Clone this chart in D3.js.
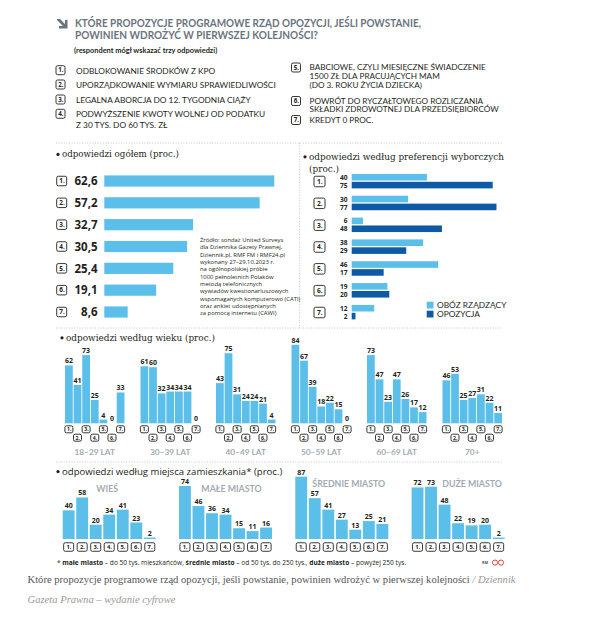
<!DOCTYPE html>
<html>
<head>
<meta charset="utf-8">
<script src="https://cdn.jsdelivr.net/npm/d3@7"></script>
<style>
body { margin: 0; background: #fff; }
</style>
</head>
<body>
<div id="chart"></div>
<script>
const itemNumbers = ['1.', '2.', '3.', '4.', '5.', '6.', '7.'];
const proposalsLeft = [
    ['ODBLOKOWANIE ŚRODKÓW Z KPO'],
    ['UPORZĄDKOWANIE WYMIARU SPRAWIEDLIWOŚCI'],
    ['LEGALNA ABORCJA DO 12. TYGODNIA CIĄŻY'],
    ['PODWYŻSZENIE KWOTY WOLNEJ OD PODATKU', 'Z 30 TYS. DO 60 TYS. ZŁ']
];
const proposalsRight = [
    ['BABCIOWE, CZYLI MIESIĘCZNE ŚWIADCZENIE', '1500 ZŁ DLA PRACUJĄCYCH MAM', '(DO 3. ROKU ŻYCIA DZIECKA)'],
    ['POWRÓT DO RYCZAŁTOWEGO ROZLICZANIA', 'SKŁADKI ZDROWOTNEJ DLA PRZEDSIĘBIORCÓW'],
    ['KREDYT 0 PROC.']
];

const totalValues = [62.6, 57.2, 32.7, 30.5, 25.4, 19.1, 8.6];
const govValues = [40, 30, 6, 38, 46, 19, 12];
const oppValues = [75, 77, 48, 29, 17, 20, 2];
const prefSeries = ['OBÓZ RZĄDZĄCY', 'OPOZYCJA'];

const ageGroups = ['18–29 LAT', '30–39 LAT', '40–49 LAT', '50–59 LAT', '60–69 LAT', '70+'];
const age18to29 = [62, 41, 73, 25, 4, 0, 33];
const age30to39 = [61, 60, 32, 34, 34, 34, 0];
const age40to49 = [43, 75, 31, 24, 24, 21, 4];
const age50to59 = [84, 67, 39, 18, 22, 15, 0];
const age60to69 = [73, 47, 23, 47, 26, 17, 12];
const age70plus = [46, 53, 25, 27, 31, 22, 11];

const placeGroups = ['WIEŚ', 'MAŁE MIASTO', 'ŚREDNIE MIASTO', 'DUŻE MIASTO'];
const village = [40, 58, 20, 34, 41, 23, 2];
const smallTown = [74, 46, 36, 34, 15, 11, 16];
const midTown = [87, 57, 41, 27, 13, 25, 21];
const bigCity = [72, 73, 48, 22, 19, 20, 2];

const sourceLines = [
    'Źródło: sondaż United Surveys',
    'dla Dziennika Gazety Prawnej,',
    'Dziennik.pl, RMF FM i RMF24.pl',
    'wykonany 27–29.10.2023 r.',
    'na ogólnopolskiej próbie',
    '1000 pełnoletnich Polaków',
    'metodą telefonicznych',
    'wywiadów kwestionariuszowych',
    'wspomaganych komputerowo (CATI)',
    'oraz ankiet udostępnianych',
    'za pomocą internetu (CAWI)'
];

const LIGHT = '#5bbfea';
const DARK = '#0f5aa7';
const INK = '#231f20';
const GREY_TITLE = '#6b747e';
const GREY_LABEL = '#a3abb2';
const SERIF = '"DejaVu Serif", serif';
const CAPTION_SERIF = '"Liberation Serif", serif';
const SANS = '"Open Sans", sans-serif';
const CAPS = 'Lato, "Open Sans", sans-serif';

const svg = d3.select('#chart').append('svg')
    .attr('width', 604).attr('height', 629)
    .attr('font-family', CAPS);

const fmtComma = v => d3.format('.1f')(v).replace('.', ',');

// little rounded box with the proposal number
const drawBox = (g, cx, cy, w, h, label, size) => {
    g.append('rect')
        .attr('x', cx - w / 2).attr('y', cy - h / 2)
        .attr('width', w).attr('height', h)
        .attr('rx', 1.6)
        .attr('fill', '#fff').attr('stroke', INK).attr('stroke-width', 0.9);
    g.append('text')
        .attr('x', cx + 0.3).attr('y', cy + size * 0.36)
        .attr('text-anchor', 'middle')
        .attr('font-family', SANS).attr('font-weight', 700)
        .attr('font-size', size).attr('fill', INK)
        .text(label);
}

const dotted = (x1, y1, x2, y2) => svg.append('line')
    .attr('x1', x1).attr('y1', y1).attr('x2', x2).attr('y2', y2)
    .attr('stroke', '#b9bcbf').attr('stroke-width', 0.8).attr('stroke-dasharray', '1,1.6');

const sectionTitle = (x, y, text, font, size) => {
    svg.append('circle').attr('cx', x).attr('cy', y - size * 0.3).attr('r', 1.6).attr('fill', INK);
    return svg.append('text').attr('x', x + 4).attr('y', y)
        .attr('font-family', font).attr('font-size', size).attr('fill', INK).text(text);
}

// ---------- header ----------
const head = svg.append('g');
head.append('path')
    .attr('d', 'M57,19 L60,19 L65,24 L65,20 L67.5,20 L67.5,28.5 L59,28.5 L59,26 L63,26 L57,20 Z')
    .attr('fill', GREY_TITLE);
head.append('text').attr('x', 75).attr('y', 27)
    .attr('font-weight', 700).attr('font-size', 11).attr('fill', GREY_TITLE)
    .attr('textLength', 346).attr('lengthAdjust', 'spacingAndGlyphs')
    .text('KTÓRE PROPOZYCJE PROGRAMOWE RZĄD OPOZYCJI, JEŚLI POWSTANIE,');
head.append('text').attr('x', 75).attr('y', 38.5)
    .attr('font-weight', 700).attr('font-size', 11).attr('fill', GREY_TITLE)
    .attr('textLength', 243).attr('lengthAdjust', 'spacingAndGlyphs')
    .text('POWINIEN WDROŻYĆ W PIERWSZEJ KOLEJNOŚCI?');
head.append('text').attr('x', 74).attr('y', 53)
    .attr('font-weight', 700).attr('font-size', 7.4).attr('fill', INK)
    .text('(respondent mógł wskazać trzy odpowiedzi)');

const listYLeft = [70.7, 85, 100, 114.3];
proposalsLeft.forEach((lines, i) => {
    drawBox(head, 60.5, listYLeft[i] - 0.5, 9, 9, itemNumbers[i], 6.2);
    lines.forEach((line, j) => head.append('text')
        .attr('x', 76).attr('y', listYLeft[i] + 3 + j * 10.3)
        .attr('font-size', 8.3).attr('fill', INK).text(line));
});
const listYRight = [67.5, 101, 120];
proposalsRight.forEach((lines, i) => {
    drawBox(head, 296, listYRight[i], 9, 9, itemNumbers[i + 4], 6.2);
    lines.forEach((line, j) => head.append('text')
        .attr('x', 309.5).attr('y', listYRight[i] + 2.5 + j * 8.9)
        .attr('font-size', 8.2).attr('fill', INK).text(line));
});

// ---------- frames ----------
dotted(56, 143, 502, 143);
dotted(299.5, 143, 299.5, 328);
dotted(56, 328, 502, 328);
dotted(56, 462, 502, 462);

// ---------- overall ----------
sectionTitle(58, 157, 'odpowiedzi ogółem (proc.)', SERIF, 8.7);

const yTotal = d3.scalePoint().domain(itemNumbers).range([181, 312]);
const xTotal = d3.scaleLinear().domain([0, 62.6]).range([0, 170]);
const gTotal = svg.append('g');
gTotal.selectAll('rect.bar').data(totalValues).enter().append('rect')
    .attr('class', 'bar')
    .attr('x', 104.3)
    .attr('y', (d, i) => yTotal(itemNumbers[i]) - 5.6)
    .attr('width', d => xTotal(d))
    .attr('height', 11.2)
    .attr('fill', LIGHT);
gTotal.selectAll('text.val').data(totalValues).enter().append('text')
    .attr('class', 'val')
    .attr('x', 97.5).attr('y', (d, i) => yTotal(itemNumbers[i]) + 4.2)
    .attr('text-anchor', 'end')
    .attr('font-family', SANS).attr('font-weight', 700).attr('font-size', 11.5).attr('fill', INK)
    .text(d => fmtComma(d));
itemNumbers.forEach(n => drawBox(gTotal, 61.7, yTotal(n), 10, 9.5, n, 6.4));

sourceLines.forEach((line, i) => svg.append('text')
    .attr('x', 200).attr('y', 242 + i * 7.33)
    .attr('font-family', SANS).attr('font-size', 5.9).attr('fill', INK)
    .text(line));

// ---------- preferences ----------
sectionTitle(305, 159.5, 'odpowiedzi według preferencji wyborczych', SERIF, 8.9);
svg.append('text').attr('x', 309).attr('y', 171.5)
    .attr('font-family', SERIF).attr('font-size', 8.9).attr('fill', INK).text('(proc.)');

const yPref = d3.scalePoint().domain(itemNumbers).range([181.5, 312.5]);
const xPref = d3.scaleLinear().domain([0, 75]).range([0, 141]);
const gPref = svg.append('g');
[govValues, oppValues].forEach((series, s) => {
    gPref.selectAll('rect.s' + s).data(series).enter().append('rect')
        .attr('class', 's' + s)
        .attr('x', 351.7)
        .attr('y', (d, i) => yPref(itemNumbers[i]) + (s === 0 ? -7.6 : 0.3))
        .attr('width', d => xPref(d))
        .attr('height', 6.6)
        .attr('fill', s === 0 ? LIGHT : DARK);
    gPref.selectAll('text.v' + s).data(series).enter().append('text')
        .attr('class', 'v' + s)
        .attr('x', 347.5)
        .attr('y', (d, i) => yPref(itemNumbers[i]) + (s === 0 ? -1.8 : 6.2))
        .attr('text-anchor', 'end')
        .attr('font-family', SANS).attr('font-weight', 700).attr('font-size', 6.6).attr('fill', INK)
        .text(d => d);
});
itemNumbers.forEach(n => drawBox(gPref, 319.5, yPref(n), 11, 10.5, n, 6.6));

prefSeries.forEach((name, i) => {
    gPref.append('rect').attr('x', 426.7).attr('y', 301.7 + i * 9)
        .attr('width', 6.8).attr('height', 6.8).attr('fill', i === 0 ? LIGHT : DARK);
    gPref.append('text').attr('x', 437).attr('y', 308 + i * 9)
        .attr('font-size', 8.4).attr('fill', INK).text(name);
});

// ---------- by age ----------
sectionTitle(62, 340.5, 'odpowiedzi według wieku (proc.)', SERIF, 8.9);

const ageSeries = [age18to29, age30to39, age40to49, age50to59, age60to69, age70plus];
const xAgeGroup = d3.scaleBand().domain(ageGroups).range([65, 502]).paddingInner(0.212);
const xAgeBar = d3.scaleBand().domain(itemNumbers).range([0, xAgeGroup.bandwidth()]).paddingInner(0.1);
const yAge = d3.scaleLinear().domain([0, 84]).range([423.3, 344.8]);

ageGroups.forEach((grp, gi) => {
    const g = svg.append('g').attr('transform', `translate(${xAgeGroup(grp)},0)`);
    g.selectAll('rect').data(ageSeries[gi]).enter().append('rect')
        .attr('x', (d, i) => xAgeBar(itemNumbers[i]))
        .attr('y', d => yAge(d))
        .attr('width', xAgeBar.bandwidth())
        .attr('height', d => yAge(0) - yAge(d))
        .attr('fill', LIGHT);
    g.selectAll('text.v').data(ageSeries[gi]).enter().append('text')
        .attr('class', 'v')
        .attr('x', (d, i) => xAgeBar(itemNumbers[i]) + xAgeBar.bandwidth() / 2)
        .attr('y', d => yAge(d) - 2)
        .attr('text-anchor', 'middle')
        .attr('font-family', SANS).attr('font-weight', 700).attr('font-size', 7).attr('fill', INK)
        .text(d => d);
    itemNumbers.forEach((n, i) => drawBox(g, xAgeBar(n) + xAgeBar.bandwidth() / 2,
        i % 2 === 0 ? 429.3 : 437.7, 8, 7, n, 5.2));
    g.append('text')
        .attr('x', xAgeGroup.bandwidth() / 2).attr('y', 454.7)
        .attr('text-anchor', 'middle')
        .attr('font-weight', 700).attr('font-size', 8.3).attr('fill', GREY_LABEL)
        .text(grp);
});

// ---------- by place ----------
sectionTitle(58, 474.5, 'odpowiedzi według miejsca zamieszkania* (proc.)', SANS, 9.6);

const placeSeries = [village, smallTown, midTown, bigCity];
const placeTitleShift = [[-2, 489], [6, 489], [7, 483.5], [14, 483.5]];
const xPlaceGroup = d3.scaleBand().domain(placeGroups).range([62.7, 504.6]).paddingInner(0.2);
const xPlaceBar = d3.scaleBand().domain(itemNumbers).range([0, xPlaceGroup.bandwidth()]).paddingInner(0.12);
const yPlace = d3.scaleLinear().domain([0, 87]).range([539, 476.7]);

placeGroups.forEach((grp, gi) => {
    const g = svg.append('g').attr('transform', `translate(${xPlaceGroup(grp)},0)`);
    g.selectAll('rect').data(placeSeries[gi]).enter().append('rect')
        .attr('x', (d, i) => xPlaceBar(itemNumbers[i]))
        .attr('y', d => yPlace(d))
        .attr('width', xPlaceBar.bandwidth())
        .attr('height', d => yPlace(0) - yPlace(d))
        .attr('fill', LIGHT);
    g.selectAll('text.v').data(placeSeries[gi]).enter().append('text')
        .attr('class', 'v')
        .attr('x', (d, i) => xPlaceBar(itemNumbers[i]) + xPlaceBar.bandwidth() / 2)
        .attr('y', d => yPlace(d) - 2)
        .attr('text-anchor', 'middle')
        .attr('font-family', SANS).attr('font-weight', 700).attr('font-size', 7).attr('fill', INK)
        .text(d => d);
    itemNumbers.forEach(n => drawBox(g, xPlaceBar(n) + xPlaceBar.bandwidth() / 2, 547, 10, 8.5, n, 5.8));
    g.append('text')
        .attr('x', xPlaceGroup.bandwidth() / 2 + placeTitleShift[gi][0]).attr('y', placeTitleShift[gi][1] + 3.2)
        .attr('text-anchor', 'middle')
        .attr('font-weight', 700).attr('font-size', 8.8).attr('fill', GREY_LABEL)
        .text(grp);
});

// footnote
const foot = svg.append('text').attr('x', 57).attr('y', 564.8)
    .attr('font-family', SANS).attr('font-size', 6.6).attr('fill', INK);
[['* ', 400], ['małe miasto', 700], [' – do 50 tys. mieszkańców, ', 400], ['średnie miasto', 700],
 [' – od 50 tys. do 250 tys., ', 400], ['duże miasto', 700], [' – powyżej 250 tys.', 400]]
    .forEach(([t, w]) => foot.append('tspan').attr('font-weight', w).text(t));

svg.append('text').attr('x', 482).attr('y', 564.3)
    .attr('font-family', SANS).attr('font-size', 3.8).attr('font-weight', 700).attr('fill', '#555').text('RM');
[495, 501].forEach(cx => svg.append('circle').attr('cx', cx).attr('cy', 562.6).attr('r', 2.6)
    .attr('fill', 'none').attr('stroke', '#d9332b').attr('stroke-width', 0.9));

// caption under the graphic
const cap = svg.append('text').attr('x', 27.5).attr('y', 582.5)
    .attr('font-family', CAPTION_SERIF).attr('font-size', 10.6).attr('fill', '#555');
cap.append('tspan').text('Które propozycje programowe rząd opozycji, jeśli powstanie, powinien wdrożyć w pierwszej kolejności ');
cap.append('tspan').attr('font-style', 'italic').attr('fill', '#999').text('/ Dziennik');
svg.append('text').attr('x', 27.5).attr('y', 602.5)
    .attr('font-family', CAPTION_SERIF).attr('font-size', 10.6).attr('font-style', 'italic').attr('fill', '#999')
    .text('Gazeta Prawna – wydanie cyfrowe');
</script>
</body>
</html>
